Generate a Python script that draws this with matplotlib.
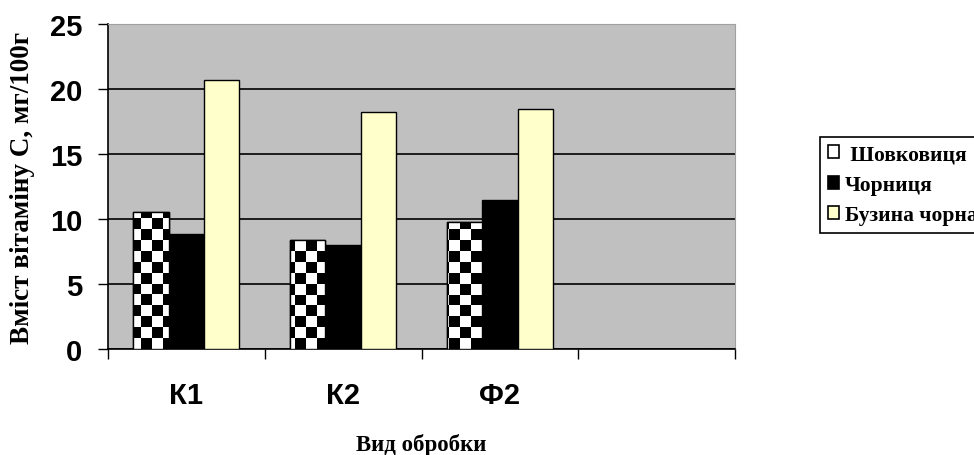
import numpy as np
import matplotlib
matplotlib.use("Agg")
import matplotlib.pyplot as plt
from matplotlib.patches import Rectangle

# Vitamin C content by treatment type
categories = ["К1", "К2", "Ф2", ""]
series_names = ["Шовковиця", "Чорниця", "Бузина чорна"]
shovkovytsia = [10.55, 8.35, 9.8, 0]
chornytsia = [8.85, 8.0, 11.5, 0]
buzyna = [20.7, 18.2, 18.45, 0]

y_ticks = [0, 5, 10, 15, 20, 25]

BG = "#c0c0c0"
YELLOW = "#ffffcc"
CHECK_PX = 11  # size of one checker square, in pixels


def checker_fill(ax, bar, nx, ny):
    # black/white checkerboard laid over the axes, clipped to one bar
    board = (np.add.outer(np.arange(ny), np.arange(nx)) % 2).astype(float)
    im = ax.imshow(board, cmap="gray", vmin=0, vmax=1, interpolation="nearest",
                   extent=(0, 1, 0, 1), transform=ax.transAxes, aspect="auto",
                   origin="upper", zorder=3.5)
    im.set_clip_path(bar)


def main():
    fig = plt.figure(figsize=(9.74, 4.56), dpi=100)
    ax = fig.add_axes([108 / 974, 1 - 350 / 456, 627 / 974, 325 / 456])
    ax.set_facecolor(BG)

    x = np.arange(len(categories))
    width = 0.225
    data = [shovkovytsia, chornytsia, buzyna]
    colors = ["white", "black", YELLOW]

    bars = []
    for i, (vals, col) in enumerate(zip(data, colors)):
        b = ax.bar(x + (i - 1) * width, vals, width, color=col,
                   edgecolor="black", linewidth=1.0, zorder=3)
        bars.append(b)

    nx = int(round(627 / CHECK_PX))
    ny = int(round(325 / CHECK_PX))
    for rect in bars[0]:
        if rect.get_height() > 0:
            checker_fill(ax, rect, nx, ny)
            # redraw the outline on top of the pattern
            ax.add_patch(Rectangle(rect.get_xy(), rect.get_width(), rect.get_height(),
                                   fill=False, edgecolor="black", linewidth=1.0, zorder=4))

    ax.set_xlim(-0.5, len(categories) - 0.5)
    ax.set_ylim(0, 25)

    ax.set_yticks(y_ticks)
    ax.set_yticklabels([str(t) for t in y_ticks], fontfamily="Liberation Sans",
                       fontweight="bold", fontsize=21)
    ax.yaxis.grid(True, color="black", linewidth=1.2, zorder=1)
    ax.set_axisbelow(True)

    # category boundaries get tick marks, labels sit in the middle
    ax.set_xticks(np.arange(len(categories) + 1) - 0.5)
    ax.set_xticklabels([])
    ax.set_xticks(x, minor=True)
    ax.set_xticklabels(categories, minor=True, fontfamily="Liberation Sans",
                       fontweight="bold", fontsize=21)
    ax.tick_params(axis="x", which="major", length=7.5, width=1, direction="out")
    ax.tick_params(axis="x", which="minor", length=0, pad=23)
    ax.tick_params(axis="y", length=7.5, width=1, direction="out", pad=11)

    for side in ("top", "right"):
        ax.spines[side].set_color("#a0a0a0")
    for side in ("left", "bottom"):
        ax.spines[side].set_color("black")
        ax.spines[side].set_linewidth(1.2)

    ax.set_xlabel("Вид обробки", fontfamily="Liberation Serif", fontweight="bold",
                  fontsize=16.5, labelpad=17)
    ax.set_ylabel("Вміст вітаміну С, мг/100г", fontfamily="Liberation Serif",
                  fontweight="bold", fontsize=19.5, labelpad=11)

    handles = [Rectangle((0, 0), 1, 1, facecolor=c, edgecolor="black", linewidth=1.2)
               for c in colors]
    labels = [" " + series_names[0]] + series_names[1:]
    leg = fig.legend(handles, labels, loc="upper left",
                     bbox_to_anchor=(820 / 974, 1 - 138 / 456),
                     bbox_transform=fig.transFigure, borderaxespad=0,
                     prop={"family": "Liberation Serif", "weight": "bold", "size": 15.5},
                     handlelength=0.55, handleheight=0.55, handletextpad=0.25,
                     labelspacing=0.48, borderpad=0.35, fancybox=False, framealpha=1)
    leg.get_frame().set_edgecolor("black")
    leg.get_frame().set_linewidth(1.2)

    fig.savefig("out.png", dpi=100)


if __name__ == "__main__":
    main()
